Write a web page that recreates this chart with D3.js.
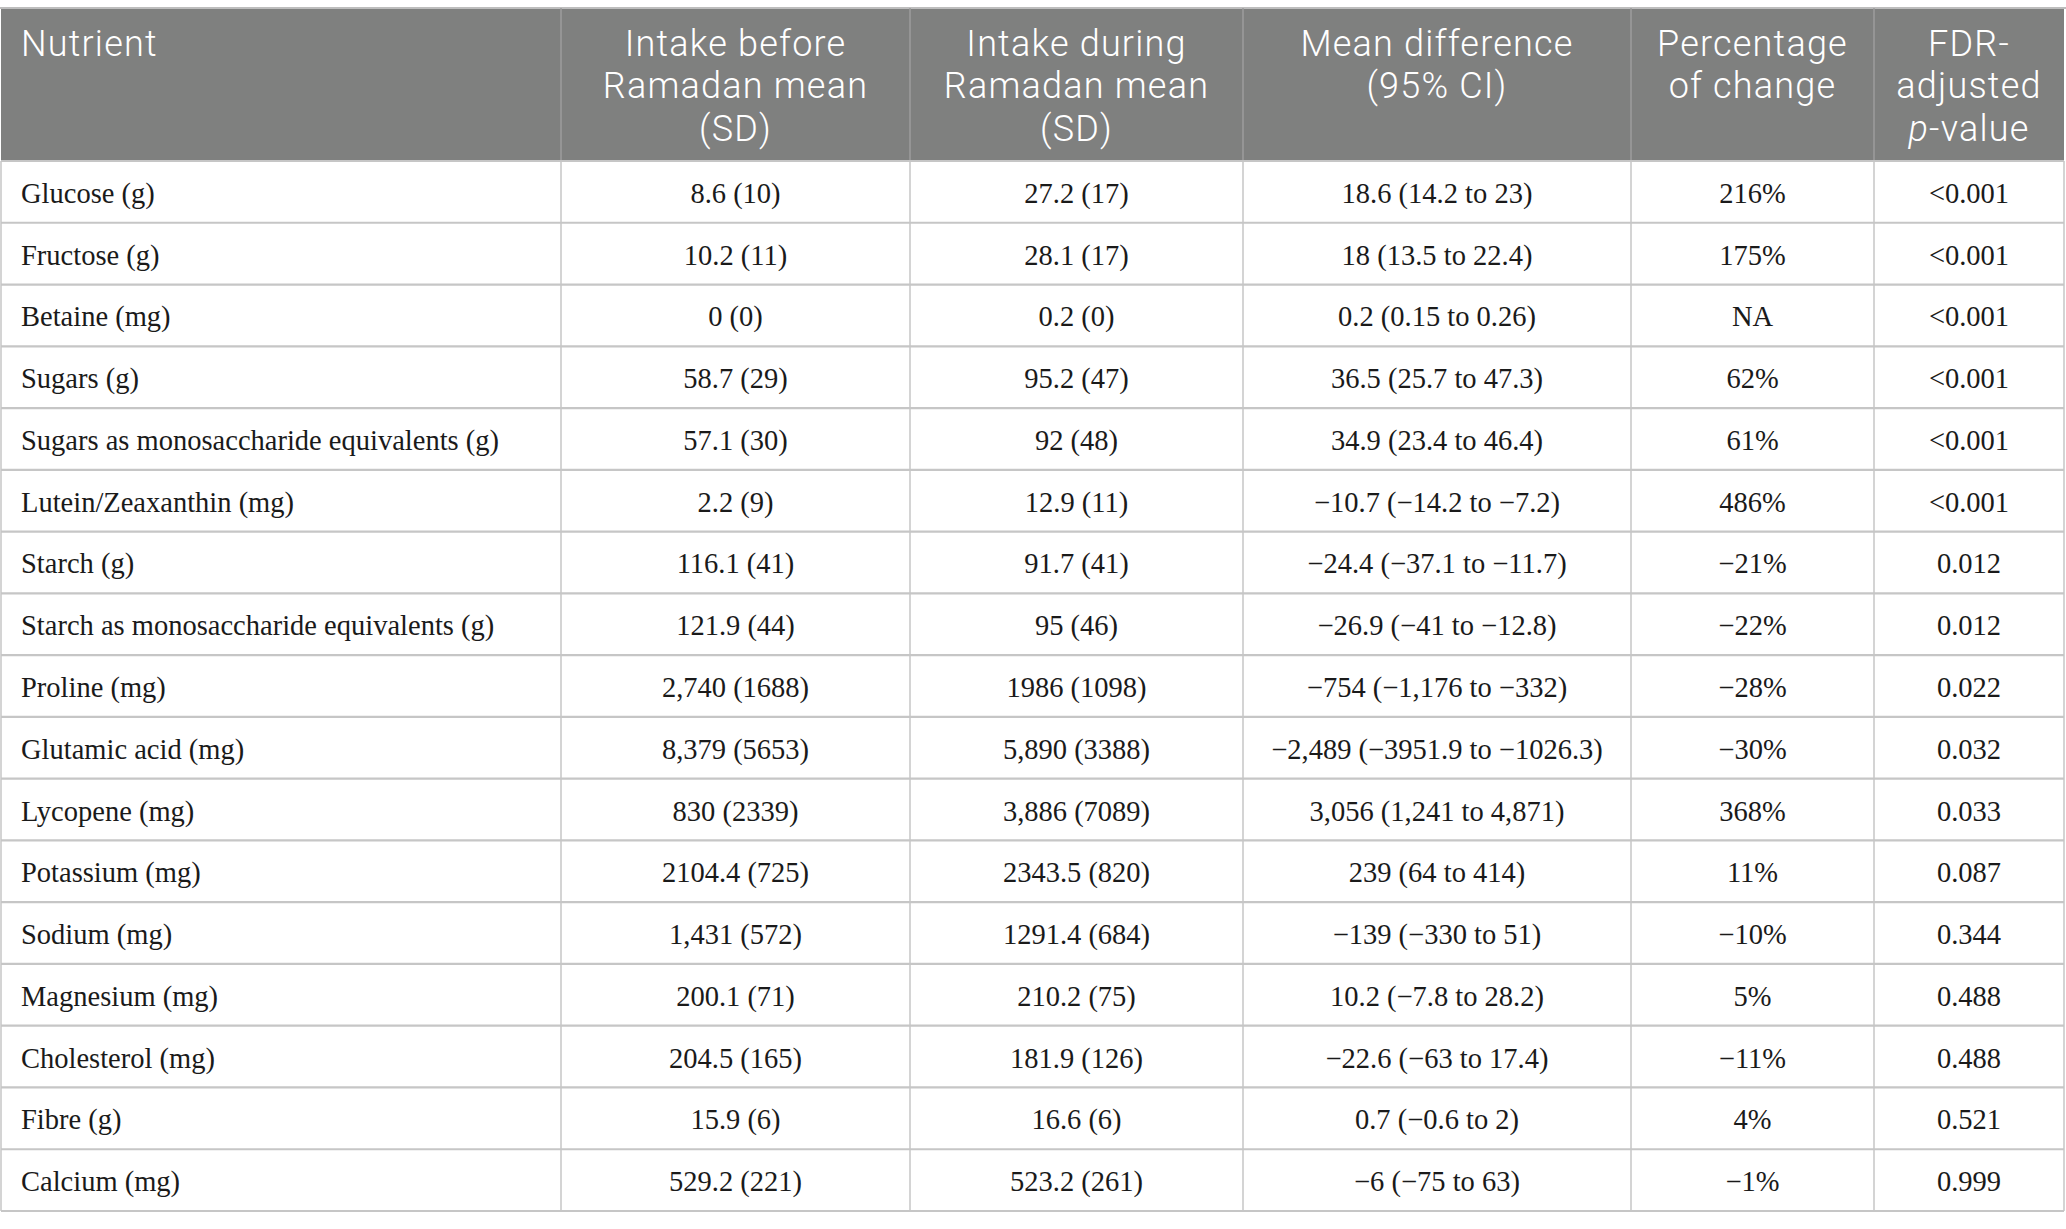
<!DOCTYPE html>
<html>
<head>
<meta charset="utf-8">
<script src="https://cdn.jsdelivr.net/npm/d3@7"></script>
<style>
  html, body { margin: 0; padding: 0; background: #ffffff; }
  svg { display: block; }
</style>
</head>
<body>
<svg id="chart" width="2066" height="1229"></svg>
<script>
// ---------- DATA ----------
const headers = [
  ["Nutrient"],
  ["Intake before", "Ramadan mean", "(SD)"],
  ["Intake during", "Ramadan mean", "(SD)"],
  ["Mean difference", "(95% CI)"],
  ["Percentage", "of change"],
  ["FDR-", "adjusted", "p-value"]
];
const nutrients = [
  "Glucose (g)", "Fructose (g)", "Betaine (mg)", "Sugars (g)",
  "Sugars as monosaccharide equivalents (g)", "Lutein/Zeaxanthin (mg)",
  "Starch (g)", "Starch as monosaccharide equivalents (g)", "Proline (mg)",
  "Glutamic acid (mg)", "Lycopene (mg)", "Potassium (mg)", "Sodium (mg)",
  "Magnesium (mg)", "Cholesterol (mg)", "Fibre (g)", "Calcium (mg)"
];
const intakeBefore = [
  "8.6 (10)", "10.2 (11)", "0 (0)", "58.7 (29)", "57.1 (30)", "2.2 (9)",
  "116.1 (41)", "121.9 (44)", "2,740 (1688)", "8,379 (5653)", "830 (2339)",
  "2104.4 (725)", "1,431 (572)", "200.1 (71)", "204.5 (165)", "15.9 (6)", "529.2 (221)"
];
const intakeDuring = [
  "27.2 (17)", "28.1 (17)", "0.2 (0)", "95.2 (47)", "92 (48)", "12.9 (11)",
  "91.7 (41)", "95 (46)", "1986 (1098)", "5,890 (3388)", "3,886 (7089)",
  "2343.5 (820)", "1291.4 (684)", "210.2 (75)", "181.9 (126)", "16.6 (6)", "523.2 (261)"
];
const meanDifference = [
  "18.6 (14.2 to 23)", "18 (13.5 to 22.4)", "0.2 (0.15 to 0.26)", "36.5 (25.7 to 47.3)",
  "34.9 (23.4 to 46.4)", "−10.7 (−14.2 to −7.2)", "−24.4 (−37.1 to −11.7)",
  "−26.9 (−41 to −12.8)", "−754 (−1,176 to −332)", "−2,489 (−3951.9 to −1026.3)",
  "3,056 (1,241 to 4,871)", "239 (64 to 414)", "−139 (−330 to 51)",
  "10.2 (−7.8 to 28.2)", "−22.6 (−63 to 17.4)", "0.7 (−0.6 to 2)", "−6 (−75 to 63)"
];
const percentChange = [
  "216%", "175%", "NA", "62%", "61%", "486%", "−21%", "−22%", "−28%", "−30%",
  "368%", "11%", "−10%", "5%", "−11%", "4%", "−1%"
];
const fdrPValue = [
  "<0.001", "<0.001", "<0.001", "<0.001", "<0.001", "<0.001", "0.012", "0.012",
  "0.022", "0.032", "0.033", "0.087", "0.344", "0.488", "0.488", "0.521", "0.999"
];

// ---------- LAYOUT ----------
const svg = d3.select("#chart");
const colEdges = [1, 561, 910, 1243, 1631, 1874, 2064];
const tableTop = 8, headerBottom = 161, tableBottom = 1211;
const headerFill = "#7f807f";
const gridColor = "#c6c6c6";
const headerFont = "Roboto, 'Noto Sans', sans-serif";
const bodyFont = "'Liberation Serif', 'Times New Roman', serif";

const columns = [nutrients, intakeBefore, intakeDuring, meanDifference, percentChange, fdrPValue];
const rows = nutrients.map((n, i) => columns.map(c => c[i]));

const y = d3.scaleBand().domain(d3.range(nutrients.length)).range([headerBottom, tableBottom]);
const colLeft = i => colEdges[i];
const colCenter = i => (colEdges[i] + colEdges[i + 1]) / 2;

// header background
svg.append("rect")
  .attr("x", colEdges[0]).attr("y", tableTop)
  .attr("width", colEdges[colEdges.length - 1] - colEdges[0])
  .attr("height", headerBottom - tableTop)
  .attr("fill", headerFill);

// top border line
svg.append("line")
  .attr("x1", 0).attr("x2", 2066).attr("y1", tableTop).attr("y2", tableTop)
  .attr("stroke", "#bdbdbd").attr("stroke-width", 2);

// header column separators
svg.selectAll("line.hsep").data(colEdges.slice(1, -1)).join("line")
  .attr("class", "hsep")
  .attr("x1", d => d).attr("x2", d => d)
  .attr("y1", tableTop).attr("y2", headerBottom)
  .attr("stroke", "#9c9c9c").attr("stroke-width", 1.5);

// header texts (one text element per line)
const lineH = 42.4, firstBase = 56;
const headerLines = [];
headers.forEach((lines, ci) => lines.forEach((ln, li) => headerLines.push({ ci, li, ln })));

const ht = svg.selectAll("text.hdr").data(headerLines).join("text")
  .attr("class", "hdr")
  .attr("font-family", headerFont)
  .attr("font-size", 36)
  .attr("font-weight", 300)
  .attr("letter-spacing", 1.2)
  .attr("fill", "#ffffff")
  .attr("text-anchor", d => d.ci === 0 ? "start" : "middle")
  .attr("x", d => d.ci === 0 ? colLeft(0) + 20 : colCenter(d.ci))
  .attr("y", d => firstBase + d.li * lineH);

ht.each(function (d) {
  const t = d3.select(this);
  if (d.ln === "p-value") {
    t.append("tspan").attr("font-style", "italic").text("p");
    t.append("tspan").text("-value");
  } else {
    t.text(d.ln);
  }
});

// body horizontal lines
svg.selectAll("line.hrow").data(d3.range(nutrients.length + 1)).join("line")
  .attr("class", "hrow")
  .attr("x1", colEdges[0]).attr("x2", colEdges[colEdges.length - 1])
  .attr("y1", d => d < nutrients.length ? y(d) : tableBottom)
  .attr("y2", d => d < nutrients.length ? y(d) : tableBottom)
  .attr("stroke", gridColor).attr("stroke-width", 2.2);

// body vertical lines
svg.selectAll("line.vcol").data(colEdges).join("line")
  .attr("class", "vcol")
  .attr("x1", d => d).attr("x2", d => d)
  .attr("y1", headerBottom).attr("y2", tableBottom)
  .attr("stroke", gridColor).attr("stroke-width", 1.5);

// body cells
const rowG = svg.selectAll("g.row").data(rows).join("g")
  .attr("class", "row")
  .attr("transform", (d, i) => `translate(0,${y(i) + y.bandwidth() / 2})`);

rowG.selectAll("text").data(d => d).join("text")
  .attr("font-family", bodyFont)
  .attr("font-size", 28.5)
  .attr("fill", "#1a1a1a")
  .attr("x", (d, i) => i === 0 ? colLeft(0) + 20 : colCenter(i))
  .attr("y", 11)
  .attr("text-anchor", (d, i) => i === 0 ? "start" : "middle")
  .text(d => d);
</script>
</body>
</html>
